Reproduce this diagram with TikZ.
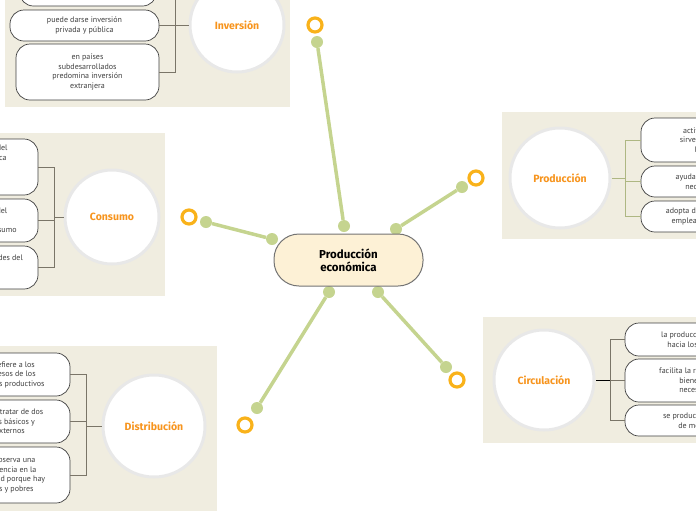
\documentclass[tikz,border=0pt]{standalone}
\usepackage{fontspec}
\setmainfont{PT Sans}
\newfontfamily\titlefont{Fira Sans}
\definecolor{panel}{HTML}{F0EDE0}
\definecolor{lnk}{HTML}{C5D48F}
\definecolor{ring}{HTML}{F9B21A}
\definecolor{ttl}{HTML}{F7941D}
\definecolor{cen}{HTML}{FDF1D6}
\definecolor{brk}{HTML}{7A7568}
\tikzset{
  pnl/.style={fill=panel,draw=none},
  topic/.style={circle,fill=white,draw=black!9,line width=3pt,minimum size=#1,font=\titlefont\bfseries\fontsize{10.5}{12}\selectfont,text=ttl},
  leaf/.style={draw=black!75,line width=0.7pt,fill=white,rounded corners=14pt,font=\fontsize{8}{9.5}\selectfont,align=center,text=black!75,inner sep=0pt},
  brkl/.style={draw=brk,line width=0.6pt},
  link/.style={draw=lnk,line width=3.5pt},
  dot/.style={circle,fill=lnk,minimum size=12pt,inner sep=0pt},
  rng/.style={circle,draw=ring,line width=3.2pt,minimum size=14pt,inner sep=0pt}
}
\begin{document}
\begin{tikzpicture}[x=1pt,y=-1pt]
\useasboundingbox (0,0) rectangle (696,520);
\clip (0,0) rectangle (696,520);
% panels
\fill[pnl] (5,-10) rectangle (290,107);
\fill[pnl] (-10,133) rectangle (165,296);
\fill[pnl] (502,112) rectangle (706,239);
\fill[pnl] (483,317) rectangle (706,443);
\fill[pnl] (-10,346) rectangle (217,511);
% Inversión
\node[leaf,minimum width=137pt,minimum height=30pt] (i0) at (88,-9) {impulsa el crecimiento de la\\economía};
\node[leaf,minimum width=149pt,minimum height=31pt] (i1) at (84.5,25.5) {puede darse inversión\\privada y pública};
\node[leaf,minimum width=143pt,minimum height=56pt] (i2) at (87.5,72) {en países\\subdesarrollados\\predomina inversión\\extranjera};
\node[topic=94pt] (inv) at (237,25) {Inversión};
\draw[brkl] (i0.east) -| (175,72) -- (i2.east);
\draw[brkl] (i1.east) -- (175,25.5);
\draw[brkl,line width=1pt] (175,25) -- (inv.west);
% Consumo
\node[leaf,minimum width=128pt,minimum height=56pt] (c0) at (-26,167) {es la etapa final del\\proceso económica\\\\\\};
\node[leaf,minimum width=128pt,minimum height=43pt] (c1) at (-26,220.5) {es la utilización del\\\\producto por el consumo};
\node[leaf,minimum width=128pt,minimum height=43pt] (c2) at (-26,267.5) {satisface las necesidades del\\\\};
\node[topic=94pt] (con) at (112,217) {Consumo};
\draw[brkl] (c0.east) -| (54,267.5) -- (c2.east);
\draw[brkl] (c1.east) -- (54,220.5);
\draw[brkl,line width=1pt] (54,217) -- (con.west);
% Producción
\node[leaf,minimum width=130pt,minimum height=44pt] (p0) at (706,140) {actividad que\\sirve para crear\\bienes};
\node[leaf,minimum width=130pt,minimum height=31pt] (p1) at (706,181.5) {ayuda a satisfacer\\necesidades};
\node[leaf,minimum width=130pt,minimum height=31pt] (p2) at (706,216.5) {adopta distintas formas\\empleando recursos};
\node[topic=100pt] (pro) at (560,178) {Producción};
\draw[brkl,draw=lnk!70!brk,line width=0.4pt] (p0.west) -| (625,216.5) -- (p2.west);
\draw[brkl,draw=lnk!70!brk,line width=0.4pt] (p1.west) -- (625,181.5);
\draw[brkl,draw=lnk!70!brk,line width=0.4pt] (625,178) -- (pro.east);
% Circulación
\node[leaf,minimum width=150pt,minimum height=33pt] (r0) at (700,339.5) {la producción se dirige\\hacia los mercados};
\node[leaf,minimum width=150pt,minimum height=43pt] (r1) at (700,380.5) {facilita la relación entre\\bienes y sus\\necesidades};
\node[leaf,minimum width=150pt,minimum height=31pt] (r2) at (700,420.5) {se produce por medio\\de mercados};
\node[topic=100pt] (cir) at (544,380) {Circulación};
\draw[brkl] (r0.west) -| (610,420.5) -- (r2.west);
\draw[brkl] (r1.west) -- (610,380.5);
\draw[brkl,line width=1pt,draw=black] (610,380) -- (cir.east);
% Distribución
\node[leaf,minimum width=128pt,minimum height=43pt] (d0) at (6,374.5) {\quad se refiere a los\\\quad ingresos de los\\\quad factores productivos};
\node[leaf,minimum width=128pt,minimum height=43pt] (d1) at (6,421.5) {\quad puede tratar de dos\\\quad tipos básicos y\\\quad externos};
\node[leaf,minimum width=128pt,minimum height=56pt] (d2) at (6,475) {\quad se observa una\\\quad diferencia en la\\\quad sociedad porque hay\\\quad ricos y pobres};
\node[topic=102pt] (dis) at (154,426) {Distribución};
\draw[brkl] (d0.east) -| (86,475) -- (d2.east);
\draw[brkl] (d1.east) -- (86,421.5);
\draw[brkl,line width=1pt] (86,426) -- (dis.west);
% connectors
\node[dot] (a1) at (344,226) {}; \node[dot] (b1) at (317,42) {}; \node[rng] (r1x) at (315,25) {};
\node[dot] (a2) at (396,229) {}; \node[dot] (b2) at (462,187) {}; \node[rng] (r2x) at (476,178) {};
\node[dot] (a3) at (272,239) {}; \node[dot] (b3) at (206,222) {}; \node[rng] (r3x) at (189,217) {};
\node[dot] (a4) at (378,292) {}; \node[dot] (b4) at (446,367) {}; \node[rng] (r4x) at (457,380) {};
\node[dot] (a5) at (329,292) {}; \node[dot] (b5) at (257,408) {}; \node[rng] (r5x) at (245,425) {};
\foreach \i in {1,...,5} {\draw[link] (a\i) -- (b\i);}
\node[draw=black!55,line width=1pt,fill=cen,rounded corners=25pt,minimum width=149pt,minimum height=52pt,font=\titlefont\bfseries\fontsize{11.5}{13}\selectfont,align=center,inner sep=0pt] (ctr) at (348.5,260) {Producción\\económica};
\end{tikzpicture}
\end{document}
